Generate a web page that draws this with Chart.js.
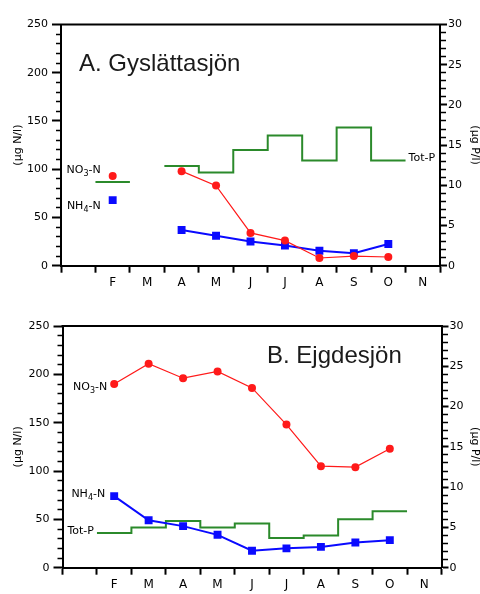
<!DOCTYPE html>
<html>
<head>
<meta charset="utf-8">
<script src="https://cdn.jsdelivr.net/npm/chart.js@4.4.0/dist/chart.umd.min.js"></script>
<style>
  html, body { margin: 0; padding: 0; background: #fff; }
  canvas { display: block; }
</style>
</head>
<body>
<canvas id="chartA" width="480" height="297"></canvas>
<canvas id="chartB" width="480" height="297"></canvas>
<script>
// month slots on the x axis (first slot is January, left unlabelled)
const MONTHS = ['', 'F', 'M', 'A', 'M', 'J', 'J', 'A', 'S', 'O', 'N'];

// A. Gyslättasjön
const no3Gys  = [null, 93, null, 98, 83, 34, 26, 8, 10, 9, null];
const nh4Gys  = [null, 68, null, 37, 31, 25, 21, 15.5, 13, 22.5, null];
const totPGys = [null, 10.4, null, 12.4, 11.6, 14.4, 16.2, 13.1, 17.2, 13.1, null];

// B. Ejgdesjön
const no3Ejg  = [null, 190, 211, 196, 203, 186, 148, 105, 104, 123, null];
const nh4Ejg  = [null, 74, 49, 43, 34, 17.5, 20, 21.5, 26, 28.5, null];
const totPEjg = [null, 4.3, 5.0, 5.8, 5.0, 5.5, 3.7, 4.0, 6.0, 7.0, null];

const H = 297;
const RED = '#ff1a1a', BLUE = '#0a0aff', GREEN = '#2b8a2b';
const FONT = 'DejaVu Sans';

// monthly samples sit in the middle of their month
const pts = vals => vals.map((v, i) => ({x: i + 0.5, y: v}));

// monthly means drawn as a step spanning the whole month
function steps(vals) {
  const out = [];
  vals.forEach((v, i) => {
    if (v === null) {
      if (out.length && out[out.length - 1].y !== null) out.push({x: i, y: null});
      return;
    }
    out.push({x: i, y: v});
    if (i === vals.length - 1 || vals[i + 1] === null) out.push({x: i + 1, y: v});
  });
  return out;
}

function drawChem(ctx, parts, x, y, align) {
  const big = '11px "' + FONT + '"', small = '8px "' + FONT + '"';
  const fonts = parts.map((p, i) => (parts.length === 3 && i === 1) ? small : big);
  let total = 0;
  const widths = parts.map((p, i) => { ctx.font = fonts[i]; const w = ctx.measureText(p).width; total += w; return w; });
  let cx = align === 'right' ? x - total : x;
  ctx.textAlign = 'left';
  ctx.textBaseline = 'middle';
  ctx.fillStyle = '#000';
  parts.forEach((p, i) => {
    ctx.font = fonts[i];
    ctx.fillText(p, cx, fonts[i] === small ? y + 4 : y);
    cx += widths[i];
  });
}

const decorate = {
  id: 'decorate',
  afterDraw(chart, args, o) {
    const {ctx, chartArea: a, scales} = chart;
    ctx.save();
    ctx.strokeStyle = '#000';
    ctx.lineWidth = 2;
    ctx.beginPath();
    ctx.moveTo(a.left - 1, a.top);
    ctx.lineTo(a.right + 1, a.top);
    ctx.stroke();

    ctx.fillStyle = '#1a1a1a';
    ctx.font = '24px "Liberation Sans", Arial, sans-serif';
    ctx.textAlign = 'left';
    ctx.textBaseline = 'alphabetic';
    ctx.fillText(o.title, o.titleX, o.titleY);

    o.labels.forEach(l => {
      const ds = chart.data.datasets[l.ds];
      const valid = ds.data.filter(d => d.y !== null);
      const p = l.at === 'last' ? valid[valid.length - 1] : valid[0];
      const ys = scales[ds.yAxisID || 'y'];
      drawChem(ctx, l.parts, scales.x.getPixelForValue(p.x) + l.dx, ys.getPixelForValue(p.y) + l.dy, l.align);
    });
    ctx.restore();
  }
};

function makeChart(id, area, no3, nh4, totP, deco) {
  const isMajorN = c => c.tick && c.tick.value % 50 === 0;
  const isMajorP = c => c.tick && c.tick.value % 5 === 0;
  new Chart(document.getElementById(id), {
    type: 'line',
    data: {
      datasets: [
        {
          label: 'NO3-N', data: pts(no3), yAxisID: 'y',
          borderColor: RED, backgroundColor: RED, borderWidth: 1.2,
          pointStyle: 'circle', pointRadius: 4, pointBorderWidth: 0
        },
        {
          label: 'NH4-N', data: pts(nh4), yAxisID: 'y',
          borderColor: BLUE, backgroundColor: BLUE, borderWidth: 2,
          pointStyle: 'rect', pointRadius: 5.6, pointBorderWidth: 0
        },
        {
          label: 'Tot-P', data: steps(totP), yAxisID: 'y2',
          borderColor: GREEN, borderWidth: 2, stepped: 'before', pointRadius: 0
        }
      ]
    },
    options: {
      responsive: false,
      animation: false,
      layout: { padding: { top: area.top, left: 0, right: 0, bottom: 0 } },
      plugins: {
        legend: { display: false },
        tooltip: { enabled: false },
        decorate: deco
      },
      scales: {
        x: {
          type: 'linear', min: 0, max: 11,
          afterFit: s => { s.height = H - area.bottom; },
          border: { color: '#000', width: 2 },
          grid: { drawOnChartArea: false, tickLength: 7, tickColor: '#000', tickWidth: 2 },
          ticks: {
            stepSize: 1, autoSkip: false, maxRotation: 0, padding: 3,
            labelOffset: (area.right - area.left) / 22,
            color: '#000', font: { family: FONT, size: 12 },
            callback: v => MONTHS[v] || ''
          }
        },
        y: {
          position: 'left', min: 0, max: 250,
          afterFit: s => { s.width = area.left; },
          border: { color: '#000', width: 2 },
          grid: {
            drawOnChartArea: false, tickLength: 9, tickColor: '#000',
            tickWidth: c => isMajorN(c) ? 2 : 1.5,
            tickBorderDash: c => isMajorN(c) ? [] : [0, 4, 5, 100]
          },
          ticks: {
            stepSize: 10, autoSkip: false, padding: 4, color: '#000',
            font: { family: FONT, size: 11 },
            callback: v => v % 50 === 0 ? v : ''
          },
          title: {
            display: true, text: '(µg N/l)', color: '#000',
            font: { family: FONT, size: 11 }, padding: { top: 12, bottom: 0 }
          }
        },
        y2: {
          position: 'right', min: 0, max: 30,
          afterFit: s => { s.width = 480 - area.right; },
          border: { color: '#000', width: 2 },
          grid: {
            drawOnChartArea: false, tickLength: 7, tickColor: '#000',
            tickWidth: c => isMajorP(c) ? 2 : 1.5,
            tickBorderDash: c => isMajorP(c) ? [] : [5, 100]
          },
          ticks: {
            stepSize: 1, autoSkip: false, padding: 1, color: '#000',
            font: { family: FONT, size: 11 },
            callback: v => v % 5 === 0 ? v : ''
          },
          title: {
            display: true, text: '(µg P/l)', color: '#000',
            font: { family: FONT, size: 11, lineHeight: 1 }, padding: 0
          }
        }
      }
    },
    plugins: [decorate]
  });
}

makeChart('chartA', { left: 61, right: 440, top: 24.5, bottom: 265.7 },
  no3Gys, nh4Gys, totPGys, {
    title: 'A. Gyslättasjön', titleX: 79, titleY: 71,
    labels: [
      { ds: 0, at: 'first', parts: ['NO', '3', '-N'], dx: -12, dy: -6, align: 'right' },
      { ds: 1, at: 'first', parts: ['NH', '4', '-N'], dx: -12, dy: 6, align: 'right' },
      { ds: 2, at: 'last', parts: ['Tot-P'], dx: 3, dy: -2, align: 'left' }
    ]
  });

makeChart('chartB', { left: 62.5, right: 441.5, top: 29, bottom: 270.7 },
  no3Ejg, nh4Ejg, totPEjg, {
    title: 'B. Ejgdesjön', titleX: 267, titleY: 65.7,
    labels: [
      { ds: 0, at: 'first', parts: ['NO', '3', '-N'], dx: -7, dy: 3, align: 'right' },
      { ds: 1, at: 'first', parts: ['NH', '4', '-N'], dx: -9, dy: -2, align: 'right' },
      { ds: 2, at: 'first', parts: ['Tot-P'], dx: -3, dy: -2, align: 'right' }
    ]
  });
</script>
</body>
</html>
